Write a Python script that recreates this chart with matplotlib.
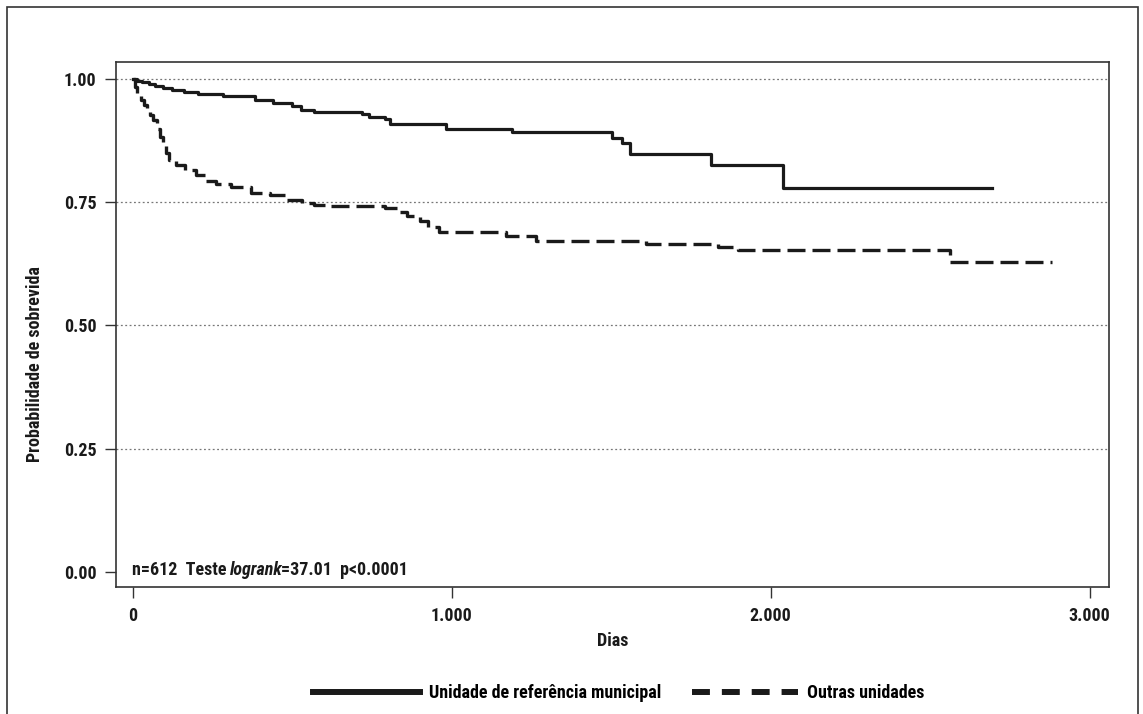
import matplotlib
matplotlib.use("Agg")
import matplotlib.pyplot as plt
from matplotlib.lines import Line2D
from matplotlib.patches import Rectangle

plt.rcParams['font.family'] = ['Roboto Condensed', 'Roboto', 'DejaVu Sans']
plt.rcParams['font.weight'] = 'bold'

# Kaplan-Meier estimates (days, survival probability)
ref_days = [0, 15, 30, 50, 70, 95, 125, 160, 205, 285, 385, 440, 500, 528, 570,
            718, 740, 791, 807, 984, 1188, 1502, 1533, 1559, 1813, 2038, 2693]
ref_surv = [1.0, 0.997, 0.995, 0.991, 0.987, 0.982, 0.978, 0.974, 0.970, 0.966,
            0.958, 0.952, 0.945, 0.937, 0.934, 0.929, 0.924, 0.919, 0.909, 0.900,
            0.893, 0.880, 0.870, 0.848, 0.826, 0.780, 0.780]

other_days = [0, 8, 15, 25, 35, 45, 55, 65, 75, 85, 95, 105, 115, 135, 165, 200,
              230, 260, 310, 370, 430, 480, 530, 570, 620, 790, 830, 860, 900,
              925, 960, 1170, 1265, 1611, 1835, 1898, 2562, 2881]
other_surv = [1.0, 0.985, 0.970, 0.958, 0.948, 0.938, 0.928, 0.918, 0.900, 0.882,
              0.866, 0.850, 0.836, 0.826, 0.816, 0.806, 0.793, 0.788, 0.782, 0.770,
              0.765, 0.755, 0.748, 0.744, 0.742, 0.738, 0.730, 0.722, 0.712, 0.700,
              0.689, 0.681, 0.672, 0.666, 0.660, 0.654, 0.628, 0.628]

labels = ["Unidade de referência municipal", "Outras unidades"]
x_ticks = [0, 1000, 2000, 3000]
x_ticklabels = ["0", "1.000", "2.000", "3.000"]
y_ticks = [0.0, 0.25, 0.5, 0.75, 1.0]
y_ticklabels = ["0.00", "0.25", "0.50", "0.75", "1.00"]

W, H = 1143, 714
fig = plt.figure(figsize=(W / 100, H / 100), dpi=100)
ax = fig.add_axes([116 / W, 1 - 587.3 / H, (1109.3 - 116) / W, (587.3 - 61.7) / H])

ink = '#1a1a1a'
fs = 13

# dotted reference lines
for yv in y_ticks[1:]:
    ax.axhline(yv, color='#777777', lw=0.9, ls=(0, (1.5, 2)), zorder=1)

ax.step(ref_days, ref_surv, where='post', color=ink, lw=2.3, zorder=3)
ax.step(other_days, other_surv, where='post', color=ink, lw=2.4,
        dashes=(5.4, 2.1), zorder=3)

ax.set_xlim(-52, 3062)
ax.set_ylim(-0.032, 1.036)
ax.set_xticks(x_ticks)
ax.set_xticklabels(x_ticklabels)
ax.set_yticks(y_ticks)
ax.set_yticklabels(y_ticklabels)
ax.tick_params(axis='both', length=8, width=1, color='#333333', pad=6,
               labelsize=fs, labelcolor=ink)
for sp in ax.spines.values():
    sp.set_color('#333333')
    sp.set_linewidth(1.2)

ax.set_xlabel("Dias", fontsize=fs, fontweight='bold', color=ink, labelpad=5)
fig.text(35 / W, 1 - 364 / H, "Probabilidade de sobrevida", rotation=90,
         ha='center', va='center', fontsize=fs, fontweight='bold', color=ink)

# statistics note, with the italic word in the middle
t1 = ax.text(0.0158, -0.0067, "n=612  Teste", transform=ax.get_yaxis_transform(),
             fontsize=fs, fontweight='bold', color=ink, va='baseline')
t2 = ax.annotate("logrank", xy=(1, 0), xycoords=t1, xytext=(3, 0),
                 textcoords='offset points', fontsize=fs, fontweight='bold',
                 style='italic', color=ink, va='bottom')
t3 = ax.annotate("=37.01  p<0.0001", xy=(1, 0), xycoords=t2, xytext=(-1.5, 0),
                 textcoords='offset points', fontsize=fs, fontweight='bold',
                 color=ink, va='bottom')

# legend under the plot
handles = [Line2D([], [], color=ink, lw=4.3),
           Line2D([], [], color=ink, lw=4.3, dashes=(3, 2))]
fig.legend(handles, labels, loc='center', bbox_to_anchor=(619 / W, 1 - 693 / H),
           ncol=2, frameon=False, fontsize=fs, handlelength=5.9,
           handletextpad=0.5, columnspacing=1.7, borderpad=0)

# outer frame of the figure (bottom edge is cut off in the original)
fig.patches.append(Rectangle((7 / W, -0.1), (1138 - 7) / W, 1 - 7 / H + 0.1,
                             transform=fig.transFigure, fill=False,
                             edgecolor='#333333', lw=1.2))

fig.savefig("out.png", dpi=100)
